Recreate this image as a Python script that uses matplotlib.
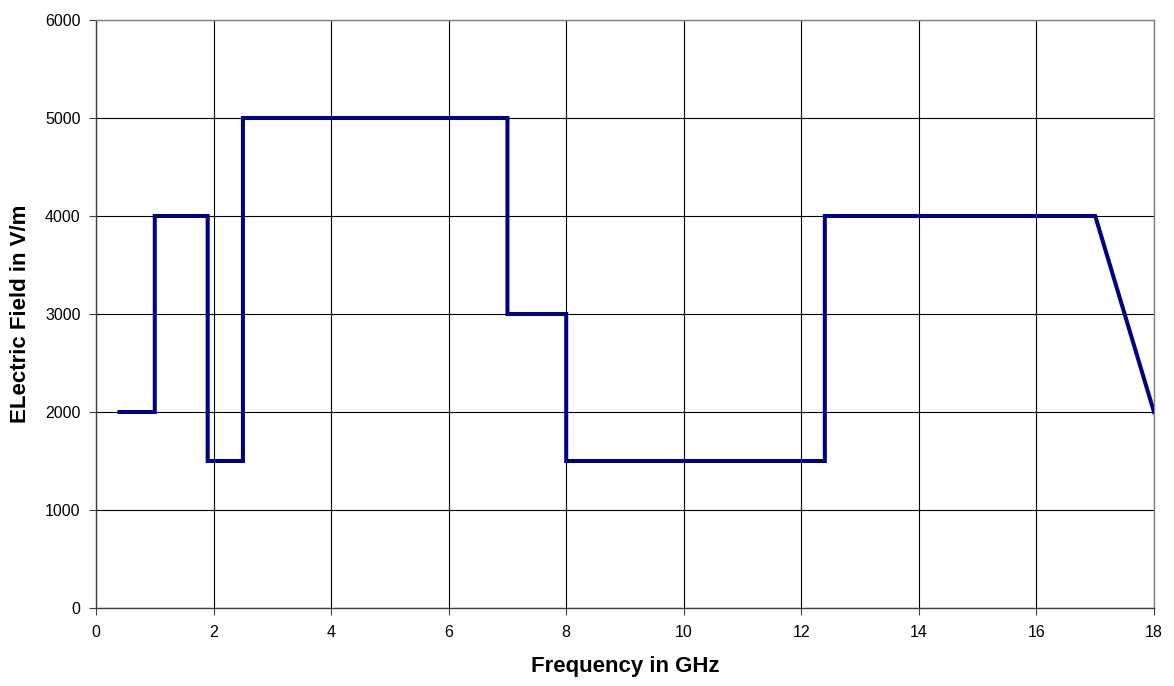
import matplotlib
matplotlib.use('Agg')
import matplotlib.pyplot as plt

plt.rcParams['font.family'] = ['Liberation Sans', 'DejaVu Sans']

# frequency breakpoints (GHz) and field strength (V/m)
freq_ghz = [0.4, 1.0, 1.0, 1.9, 1.9, 2.5, 2.5, 7.0, 7.0, 8.0, 8.0, 12.4, 12.4, 17.0, 18.0]
field_vm = [2000, 2000, 4000, 4000, 1500, 1500, 5000, 5000, 3000, 3000, 1500, 1500, 4000, 4000, 2000]

x_ticks = [0, 2, 4, 6, 8, 10, 12, 14, 16, 18]
y_ticks = [0, 1000, 2000, 3000, 4000, 5000, 6000]

fig = plt.figure(figsize=(11.74, 6.86), dpi=100)
ax = fig.add_axes([96 / 1174, 78 / 686, 1058 / 1174, 588 / 686])

ax.plot(freq_ghz, field_vm, color='#000080', linewidth=2.9, solid_joinstyle='miter', zorder=3)

ax.set_xlim(0, 18)
ax.set_ylim(0, 6000)
ax.set_xticks(x_ticks)
ax.set_yticks(y_ticks)
ax.grid(True, color='black', linewidth=0.8)
ax.set_axisbelow(True)

for side in ['left', 'bottom']:
    ax.spines[side].set_color('#404040')
    ax.spines[side].set_linewidth(1.0)
for side in ['top', 'right']:
    ax.spines[side].set_color('#808080')
    ax.spines[side].set_linewidth(1.0)

ax.tick_params(direction='out', length=5, width=0.8, color='#404040', labelsize=11.5)
ax.tick_params(axis='x', pad=7)
ax.tick_params(axis='y', pad=6)

ax.set_xlabel('Frequency in GHz', fontsize=16, fontweight='bold', labelpad=12)
ax.set_ylabel('ELectric Field in V/m', fontsize=16, fontweight='bold', labelpad=10)

plt.savefig('out.png', dpi=100)
plt.close()
